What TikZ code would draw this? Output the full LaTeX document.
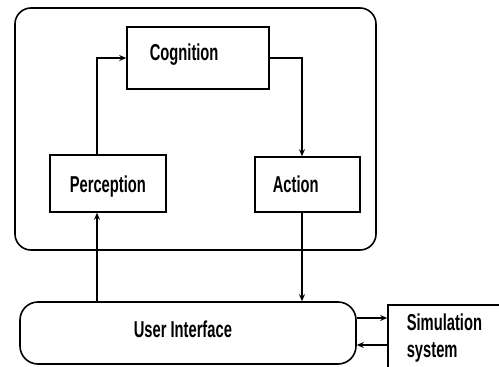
\documentclass[tikz,border=0pt]{standalone}
\usepackage{fontspec}
\setmainfont[FakeStretch=0.64]{Liberation Sans}
\usetikzlibrary{arrows.meta}
\begin{document}
\begin{tikzpicture}[x=1pt,y=-1pt,
  line width=1.6pt,
  lbl/.style={font=\bfseries\fontsize{23}{26}\selectfont, inner sep=0pt, anchor=base west},
  box/.style={draw, line width=1.6pt, inner sep=0pt},
  arr/.style={-{Stealth[length=7pt,width=6pt]}, line width=1.5pt}]
\useasboundingbox (0,0) rectangle (499,367);
\clip (0,0) rectangle (499,367);
% agent enclosure
\draw[rounded corners=16pt] (15,8) rectangle (376,250);
% module boxes
\node[box, minimum width=142pt, minimum height=62pt] (cog) at (198,58) {};
\node[box, minimum width=116pt, minimum height=57pt] (per) at (108,183.5) {};
\node[box, minimum width=105pt, minimum height=55pt] (act) at (307.5,184.5) {};
\node[box, rounded corners=18pt, minimum width=336pt, minimum height=62pt] (ui) at (188,333) {};
\node[box, minimum width=122pt, minimum height=67pt] (sim) at (449,338.5) {};
% labels
\node[lbl] (cogt) at (149,60) {Cognition};
\node[lbl] (pert) at (69,192) {Perception};
\node[lbl] (actt) at (272,192) {Action};
\node[lbl] (uit) at (133,337) {User Interface};
\node[lbl] (simt1) at (406,330) {Simulation};
\node[lbl] (simt2) at (406,357) {system};
% connectors
\draw[arr] ([xshift=-11pt]per.north) |- (cog.west);
\draw[arr] (cog.east) -| ([xshift=-5.5pt]act.north);
\draw[arr] ([xshift=-11pt]per.south |- ui.north) -- ([xshift=-11pt]per.south);
\draw[arr] ([xshift=-5.5pt]act.south) -- ([xshift=-5.5pt]act.south |- ui.north);
\draw[arr] ([yshift=15pt]ui.east) -- ([yshift=15pt]ui.east -| sim.west);
\draw[arr] ([yshift=-12pt]ui.east -| sim.west) -- ([yshift=-12pt]ui.east);
\end{tikzpicture}
\end{document}
